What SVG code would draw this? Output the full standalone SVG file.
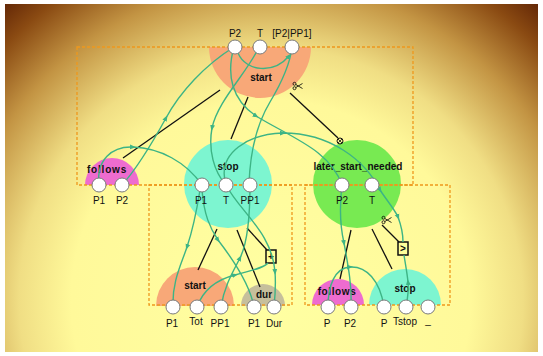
<svg xmlns="http://www.w3.org/2000/svg" width="543" height="356" viewBox="0 0 543 356">
  <defs>
    <radialGradient id="bg" gradientUnits="userSpaceOnUse" cx="271" cy="300" r="400">
      <stop offset="0" stop-color="#FFFFA2"/>
      <stop offset="0.5" stop-color="#FFF99A"/>
      <stop offset="0.63" stop-color="#F0DE84"/>
      <stop offset="0.79" stop-color="#C39443"/>
      <stop offset="0.92" stop-color="#8A4A12"/>
      <stop offset="1" stop-color="#622606"/>
    </radialGradient>
    <marker id="ah" viewBox="0 0 10 10" refX="5" refY="5" markerWidth="6" markerHeight="6" markerUnits="userSpaceOnUse" orient="auto">
      <path d="M0,1 L10,5 L0,9 z" fill="#3DB485"/>
    </marker>
    <g id="scissors">
      <circle cx="-3.5" cy="-2.2" r="1.5" fill="none" stroke="#000" stroke-width="0.8"/>
      <circle cx="-3.5" cy="2.2" r="1.5" fill="none" stroke="#000" stroke-width="0.8"/>
      <path d="M-2.2,-1.5 L4.5,2.5 M-2.2,1.5 L4.5,-2.5" stroke="#000" stroke-width="0.8" fill="none"/>
    </g>
  </defs>
  <style>
    .box { fill: none; stroke: #EE981C; stroke-width: 1.3; stroke-dasharray: 3 2; }
    .port { fill: #fff; stroke: #7a7a7a; stroke-width: 1; }
    .tree { stroke: #111; stroke-width: 1.3; fill: none; }
    .flow { stroke: #3DB485; stroke-width: 1.4; fill: none; }
    .fa { marker-mid: url(#ah); }
    .fe { marker-end: url(#ah); }
    .name { font-family: "Liberation Sans", Arial, sans-serif; font-size: 10px; font-weight: bold; fill: #111; text-anchor: middle; }
    .lbl { font-family: "Liberation Sans", Arial, sans-serif; font-size: 10px; fill: #111; text-anchor: middle; }
    .op { fill: #FFFF9A; stroke: #111; stroke-width: 1.5; }
    .start { fill: #F8A878; }
    .follows { fill: #EE6CCF; }
    .stop { fill: #7DF5D0; }
    .lsn { fill: #78EA52; }
    .dur { fill: #C6BF9C; }
  </style>

  <rect x="0" y="0" width="543" height="356" fill="#fff"/>
  <rect x="5" y="4" width="533" height="348" fill="url(#bg)"/>

  <!-- goal shapes -->
  <g id="start-head">
    <path class="start" d="M209,47 A51,51 0 0 0 311,47 Z"/>
    <text class="name" x="261" y="81">start</text>
  </g>
  <g id="follows-top">
    <path class="follows" d="M85,185 A27,27 0 0 1 139,185 Z"/>
    <text class="name" x="107" y="173" letter-spacing="0.8">follows</text>
  </g>
  <g id="stop-top">
    <circle class="stop" cx="228" cy="184" r="44"/>
    <text class="name" x="228" y="170">stop</text>
  </g>
  <g id="later-start-needed">
    <circle class="lsn" cx="357" cy="184" r="44"/>
    <text class="name" x="358" y="170">later_start_needed</text>
  </g>
  <g id="start-body">
    <path class="start" d="M156,306 A39,39 0 0 1 234,306 Z"/>
    <text class="name" x="195" y="289">start</text>
  </g>
  <g id="dur-body">
    <path class="dur" d="M241,306 A22,22 0 0 1 285,306 Z"/>
    <text class="name" x="264" y="298">dur</text>
  </g>
  <g id="follows-body">
    <path class="follows" d="M312,305 A26,26 0 0 1 364,305 Z"/>
    <text class="name" x="337" y="295" letter-spacing="0.6">follows</text>
  </g>
  <g id="stop-body">
    <path class="stop" d="M369,305 A36,36 0 0 1 441,305 Z"/>
    <text class="name" x="405" y="292">stop</text>
  </g>

  <!-- clause frames -->
  <g id="frames">
    <rect class="box" x="77" y="47" width="336" height="138"/>
    <rect class="box" x="149" y="185" width="143" height="120"/>
    <rect class="box" x="305" y="185" width="145" height="120"/>
  </g>

  <g id="plus-op">
    <rect class="op" x="266" y="250" width="10" height="13"/>
    <text class="name" x="271" y="260">+</text>
  </g>
  <g id="greater-op">
    <rect class="op" x="398" y="242" width="10" height="13"/>
    <text class="name" x="403" y="252">&gt;</text>
  </g>

  <!-- connectors -->
  <g id="connectors">
    <!-- tree links -->
    <path class="tree" d="M220,90 L123,158"/>
    <path class="tree" d="M248,97 L231,139"/>
    <path class="tree" d="M290,93 L338,138"/>
    <circle cx="340" cy="141" r="3" fill="none" stroke="#111" stroke-width="1"/>
    <path d="M338,139 L342,143 M342,139 L338,143" stroke="#111" stroke-width="0.8"/>
    <use href="#scissors" x="298" y="86"/>
    <path class="tree" d="M217,229 L198,270"/>
    <path class="tree" d="M237,230 L260,287"/>
    <path class="tree" d="M247,228 L267,250"/>
    <path class="tree" d="M351,230 L340,279"/>
    <path class="tree" d="M372,229 L392,269"/>
    <path class="tree" d="M382,225 L399,242"/>
    <use href="#scissors" x="387" y="220"/>

    <!-- variable flows -->
    <path class="flow fa" d="M99,185 C96,160 112,146 133,147 C160,148 186,162 202,185"/>
    <path class="flow fa" d="M122,185 C140,165 155,138 166,118 C180,92 205,65 234,47"/>
    <path class="flow fa" d="M259,47 C248,72 218,100 212,128 C208,150 214,172 226,185"/>
    <path class="flow" d="M249,185 C250,150 258,122 270,102 C282,82 290,65 292,47"/>
    <path class="flow fe" d="M238,53 C246,72 274,74 289,56"/>
    <path class="flow fa" d="M234,47 C226,75 232,100 256,116 C292,138 330,150 342,185"/>
    <path class="flow fa" d="M226,185 C216,152 250,134 283,133 C330,133 365,160 380,190 C388,202 395,210 398,217 C401,225 403,235 403,242"/>
    <path class="flow fa" d="M200,190 C196,215 191,235 187,247 C181,265 172,282 173,307"/>
    <path class="flow fa" d="M202,190 C204,215 210,228 218,240 C235,262 250,285 254,307"/>
    <path class="flow fa" d="M221,307 C224,286 234,270 240,258 C248,242 250,215 250,185"/>
    <path class="flow fa" d="M197,307 C203,290 215,280 235,275 C252,270 264,268 268,263"/>
    <path class="flow fa" d="M226,185 C240,212 272,232 275,272 C276,285 275,297 274,307"/>
    <path class="flow fa" d="M342,185 C339,210 341,230 344,243 C348,265 352,285 351,307"/>
    <path class="flow fa" d="M328,307 C328,285 335,268 350,267 C366,266 380,280 384,307"/>
    <path class="flow fa" d="M406,307 C408,296 409,288 408,282 C407,272 405,262 404,255"/>
  </g>

  <!-- ports and their names -->
  <g id="ports">
    <circle class="port" cx="235" cy="47" r="7"/>
    <circle class="port" cx="260" cy="47" r="7"/>
    <circle class="port" cx="292" cy="47" r="7"/>
    <text class="lbl" x="235" y="37">P2</text>
    <text class="lbl" x="260" y="37">T</text>
    <text class="lbl" x="292" y="37">[P2|PP1]</text>

    <circle class="port" cx="99" cy="185" r="7"/>
    <circle class="port" cx="122" cy="185" r="7"/>
    <text class="lbl" x="99" y="204">P1</text>
    <text class="lbl" x="122" y="204">P2</text>

    <circle class="port" cx="202" cy="185" r="7"/>
    <circle class="port" cx="226" cy="185" r="7"/>
    <circle class="port" cx="250" cy="185" r="7"/>
    <text class="lbl" x="201" y="204">P1</text>
    <text class="lbl" x="226" y="204">T</text>
    <text class="lbl" x="250" y="204">PP1</text>

    <circle class="port" cx="342" cy="185" r="7"/>
    <circle class="port" cx="372" cy="185" r="7"/>
    <text class="lbl" x="342" y="204">P2</text>
    <text class="lbl" x="372" y="204">T</text>

    <circle class="port" cx="173" cy="307" r="7"/>
    <circle class="port" cx="197" cy="307" r="7"/>
    <circle class="port" cx="221" cy="307" r="7"/>
    <circle class="port" cx="254" cy="307" r="7"/>
    <circle class="port" cx="274" cy="307" r="7"/>
    <text class="lbl" x="172" y="327">P1</text>
    <text class="lbl" x="196" y="325">Tot</text>
    <text class="lbl" x="220" y="327">PP1</text>
    <text class="lbl" x="254" y="327">P1</text>
    <text class="lbl" x="274" y="327">Dur</text>

    <circle class="port" cx="328" cy="307" r="7"/>
    <circle class="port" cx="351" cy="307" r="7"/>
    <circle class="port" cx="384" cy="307" r="7"/>
    <circle class="port" cx="406" cy="307" r="7"/>
    <circle class="port" cx="428" cy="307" r="7"/>
    <text class="lbl" x="327" y="327">P</text>
    <text class="lbl" x="350" y="327">P2</text>
    <text class="lbl" x="384" y="327">P</text>
    <text class="lbl" x="405" y="325">Tstop</text>
    <text class="lbl" x="428" y="324">_</text>
  </g>
</svg>
